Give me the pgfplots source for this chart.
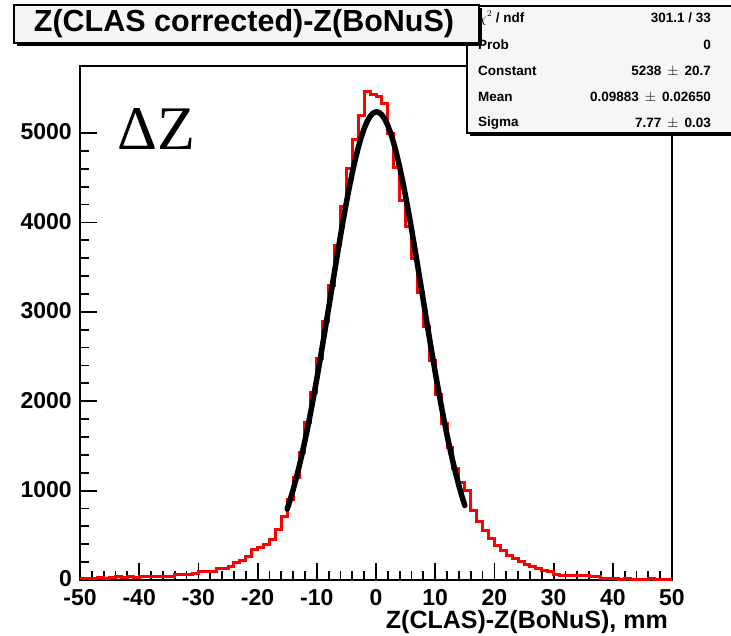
\documentclass[border=0pt]{standalone}
\usepackage{pgfplots}
\pgfplotsset{compat=1.18}
\usepackage{fontspec}
\setmainfont{Liberation Sans}
\newfontfamily\seriffont{Liberation Serif}
\begin{document}
\begin{tikzpicture}[x=1pt,y=1pt]
\useasboundingbox (0,0) rectangle (731,636);
\begin{axis}[
  at={(80pt,56pt)}, anchor=south west,
  width=592pt, height=514pt, scale only axis,
  xmin=-50, xmax=50, ymin=0, ymax=5750,
  axis line style={line width=2.2pt},
  tick align=inside, xtick pos=bottom, ytick pos=left,
  xtick={-50,-40,...,50},
  xticklabels={-50,-40,-30,-20,-10,0,10,20,30,40,50},
  ytick={0,1000,...,5000},
  yticklabels={0,1000,2000,3000,4000,5000},
  minor x tick num=4, minor y tick num=4,
  major tick length=17pt, minor tick length=9pt,
  every tick/.style={black, line width=1.8pt},
  ticklabel style={font=\fontsize{23}{23}\selectfont\bfseries, inner sep=0pt},
  xticklabel style={anchor=north, yshift=-9pt},
  yticklabel style={anchor=east, xshift=-8pt, yshift=1pt},
  xlabel={Z(CLAS)-Z(BoNuS), mm},
  xlabel style={at={(axis description cs:1,0)}, anchor=base east, inner sep=0pt,
    yshift=-49pt, xshift=-4pt, font=\fontsize{25}{25}\selectfont\bfseries},
  clip=false,
]
\addplot[const plot, red, line width=3pt, line join=miter] coordinates {
(-50,20) (-49,22) (-48,18) (-47,24) (-46,21) (-45,30) (-44,34) (-43,31) (-42,36) (-41,33)
(-40,38) (-39,35) (-38,40) (-37,37) (-36,42) (-35,40) (-34,62) (-33,66) (-32,63) (-31,70)
(-30,100) (-29,93) (-28,96) (-27,125) (-26,132) (-25,150) (-24,195) (-23,215) (-22,262) (-21,340)
(-20,365) (-19,395) (-18,450) (-17,560) (-16,705) (-15,900) (-14,1150) (-13,1430) (-12,1760) (-11,2100)
(-10,2480) (-9,2890) (-8,3300) (-7,3740) (-6,4180) (-5,4600) (-4,4930) (-3,5200) (-2,5465) (-1,5430)
(0,5410) (1,5325) (2,5000) (3,4620) (4,4250) (5,3950) (6,3600) (7,3220) (8,2840) (9,2450)
(10,2080) (11,1750) (12,1480) (13,1250) (14,1090) (15,1000) (16,780) (17,650) (18,550) (19,465)
(20,390) (21,325) (22,270) (23,240) (24,205) (25,170) (26,150) (27,130) (28,105) (29,92)
(30,60) (31,55) (32,50) (33,52) (34,48) (35,45) (36,40) (37,38) (38,18) (39,15)
(40,12) (41,10) (42,13) (43,9) (44,11) (45,8) (46,12) (47,9) (48,10) (49,8) (50,8)
};
\addplot[black, line width=5.5pt, line join=round, line cap=round] coordinates {
(-15,792.6) (-14.5,896.3) (-14,1009.5) (-13.5,1132.1) (-13,1264.3) (-12.5,1406.6) (-12,1558.0)
(-11.5,1718.7) (-11,1888.0) (-10.5,2065.4) (-10,2250.5) (-9.5,2441.7) (-9,2638.3) (-8.5,2839.0)
(-8,3042.2) (-7.5,3246.5) (-7,3450.3) (-6.5,3651.6) (-6,3848.8) (-5.5,4039.9) (-5,4222.9)
(-4.5,4396.1) (-4,4557.3) (-3.5,4704.9) (-3,4837.2) (-2.5,4952.8) (-2,5050.2) (-1.5,5128.1)
(-1,5185.8) (-0.5,5222.4) (0,5237.6) (0.5,5231.0) (1,5203.0) (1.5,5153.7) (2,5083.7)
(2.5,4994.0) (3,4885.6) (3.5,4759.8) (4,4618.0) (4.5,4462.0) (5,4293.4) (5.5,4114.1)
(6,3926.1) (6.5,3731.2) (7,3531.3) (7.5,3328.2) (8,3123.9) (8.5,2920.0) (9,2718.1)
(9.5,2519.7) (10,2326.3) (10.5,2138.7) (11,1958.3) (11.5,1785.3) (12,1621.2) (12.5,1466.0)
(13,1320.2) (13.5,1184.0) (14,1057.6) (14.5,940.5) (15,832.9)
};
\end{axis}
% Delta Z annotation
\node[anchor=base west, inner sep=0pt, font=\seriffont\fontsize{62}{62}\selectfont] at (117,486) {ΔZ};
% stats box
\fill[black] (470,500) rectangle (745,627);
\filldraw[fill=gray!7, draw=black, line width=1.2pt] (467,503) rectangle (745,630);
\begin{scope}[every node/.style={inner sep=0pt, font=\fontsize{13.5}{14}\selectfont\bfseries}]
\node[anchor=west] at (478,618) {$\chi^{2}$ / ndf};
\node[anchor=east] at (711,618) {301.1 / 33};
\node[anchor=west] at (478,591) {Prob};
\node[anchor=east] at (711,591) {0};
\node[anchor=west] at (478,565) {Constant};
\node[anchor=east] at (711,565) {5238 \,{\mdseries$\pm$}\, 20.7};
\node[anchor=west] at (478,539) {Mean};
\node[anchor=east] at (711,539) {0.09883 \,{\mdseries$\pm$}\, 0.02650};
\node[anchor=west] at (478,513) {Sigma};
\node[anchor=east] at (711,513) {7.77 \,{\mdseries$\pm$}\, 0.03};
\end{scope}
% title box
\fill[black] (17,590) rectangle (482,628);
\filldraw[fill=gray!8, draw=black, line width=1.5pt] (14,593) rectangle (479,631);
\node[inner sep=0pt, font=\fontsize{30.5}{30.5}\selectfont\bfseries] at (244,612) {Z(CLAS corrected)-Z(BoNuS)};
\end{tikzpicture}
\end{document}
